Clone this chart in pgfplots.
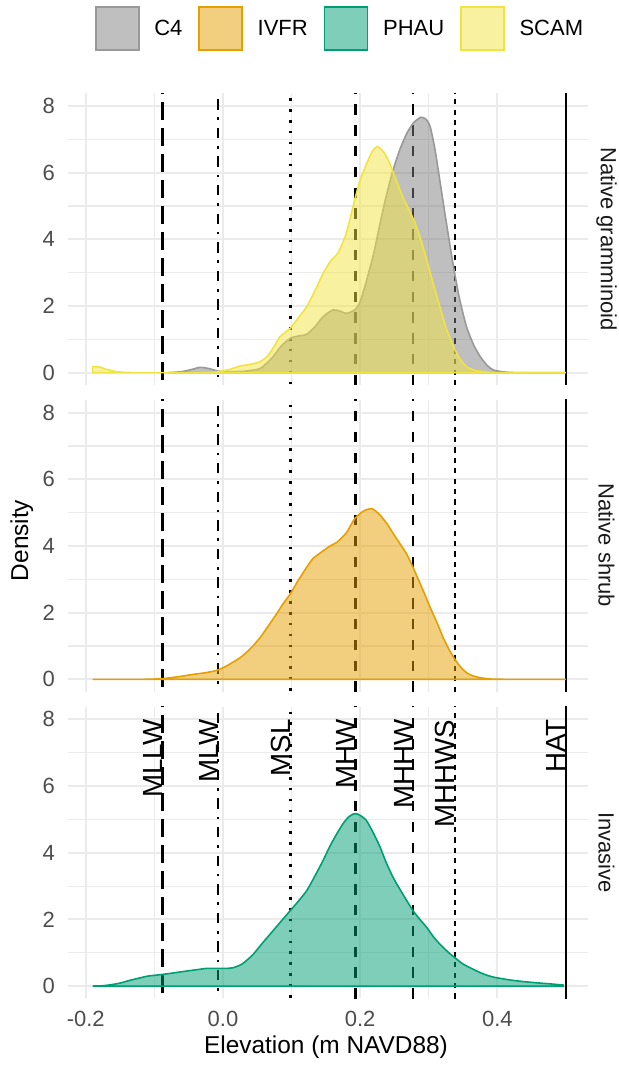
\documentclass[border=0pt]{standalone}
\usepackage{fontspec}
\setmainfont{Liberation Sans}
\usepackage{pgfplots}
\pgfplotsset{compat=1.18}
\definecolor{c4fill}{HTML}{7F7F7F}
\definecolor{c4line}{HTML}{999999}
\definecolor{ivfr}{HTML}{E69F00}
\definecolor{phau}{HTML}{009E73}
\definecolor{scam}{HTML}{F0E442}
\definecolor{gridc}{HTML}{EBEBEB}
\definecolor{tickc}{HTML}{4D4D4D}
\definecolor{stripc}{HTML}{1A1A1A}
\tikzset{
  strip/.style={rotate=-90, font=\fontsize{22}{26}\selectfont, text=stripc, inner sep=0pt},
}
\pgfplotsset{
  panel/.style={
    scale only axis, width=520pt, height=291.7pt,
    xmin=-0.2259, xmax=0.5321, ymin=-0.37, ymax=8.38,
    axis line style={draw=none},
    major tick length=0pt, minor tick length=0pt,
    xtick={-0.2,0,0.2,0.4}, minor xtick={-0.1,0.1,0.3,0.5},
    ytick={0,2,4,6,8}, minor ytick={1,3,5,7},
    yticklabels={0,2,4,6,8},
    grid=both,
    major grid style={gridc, line width=2.2pt},
    minor grid style={gridc, line width=1.1pt},
    ticklabel style={font=\fontsize{22}{26}\selectfont, text=tickc},
    yticklabel style={anchor=east, inner sep=0pt, xshift=-13pt},
    xticklabel style={anchor=north, inner sep=0pt, yshift=-12.6pt},
  },
  dens/.style={line width=1.6pt, fill opacity=0.5, smooth, tension=0.4},
  refl/.style={black, line width=2.6pt, forget plot},
  mllw/.style={refl, dash pattern=on 18pt off 8pt},
  mlw/.style={refl, dash pattern=on 2.6pt off 7.8pt on 10.4pt off 7.8pt},
  msl/.style={refl, dash pattern=on 2.6pt off 8.3pt},
  mhw/.style={refl, dash pattern=on 10.4pt off 10.4pt},
  mhhws/.style={refl, dash pattern=on 5.2pt off 5.2pt},
  hat/.style={refl},
}
\newcommand{\reflines}{%
  \addplot[mllw] coordinates {(-0.088,-1) (-0.088,9)};
  \addplot[mlw] coordinates {(-0.007,-1) (-0.007,9)};
  \addplot[msl] coordinates {(0.098,-1) (0.098,9)};
  \addplot[mhw] coordinates {(0.193,-1) (0.193,9)};
  \addplot[mhw] coordinates {(0.277,-1) (0.277,9)};
  \addplot[mhhws] coordinates {(0.338,-1) (0.338,9)};
  \addplot[hat] coordinates {(0.5,-1) (0.5,9)};
}
\begin{document}
\begin{tikzpicture}
\useasboundingbox (0,0) rectangle (618pt,1067pt);
% ---------- Panel 1 ----------
\begin{axis}[panel, at={(68pt,682pt)}, anchor=south west, xticklabels={},
  legend style={draw=none, fill=none, at={(axis description cs:0.0519,1.2215)}, anchor=west,
    inner sep=0pt, outer sep=0pt, nodes={inner sep=0pt},
    font=\fontsize{22}{26}\selectfont,
    /tikz/every odd column/.style={column sep=14.7pt},
    /tikz/every even column/.style={column sep=16pt}},
  legend columns=4, legend cell align=left,
  legend image code/.code={\draw[#1] (0pt,-21.5pt) rectangle (43pt,21.5pt);}]
\addlegendimage{fill=c4fill, fill opacity=0.5, draw=c4line, line width=1.6pt}
\addlegendentry{C4}
\addlegendimage{fill=ivfr, fill opacity=0.5, draw=ivfr, line width=1.6pt}
\addlegendentry{IVFR}
\addlegendimage{fill=phau, fill opacity=0.5, draw=phau, line width=1.6pt}
\addlegendentry{PHAU}
\addlegendimage{fill=scam, fill opacity=0.5, draw=scam, line width=1.6pt}
\addlegendentry{SCAM}
\reflines
\addplot[dens, fill=c4fill, draw=c4line, forget plot] coordinates {
(-0.08,0) (-0.06,0.03) (-0.045,0.1) (-0.033,0.16) (-0.02,0.12) (-0.008,0.05)
(0.01,0.03) (0.03,0.04) (0.045,0.08) (0.054,0.12) (0.063,0.27) (0.073,0.48)
(0.085,0.8) (0.098,1.03) (0.11,1.1) (0.122,1.15) (0.135,1.4) (0.146,1.68)
(0.16,1.88) (0.17,1.85) (0.18,1.78) (0.192,1.88) (0.2,2.13) (0.2095,2.78)
(0.22,3.6) (0.229,4.48) (0.238,5.3) (0.248,6.08) (0.258,6.7) (0.268,7.18)
(0.278,7.5) (0.2886,7.66) (0.296,7.6) (0.302,7.38) (0.309,6.7) (0.316,5.78)
(0.326,4.45) (0.336,3.18) (0.345,2.2) (0.355,1.38) (0.365,0.85) (0.375,0.48)
(0.385,0.22) (0.394,0.08) (0.41,0.02) (0.43,0) (0.5,0)
} \closedcycle;
\addplot[dens, fill=scam, draw=scam, forget plot] coordinates {
(-0.19,0.18) (-0.18,0.17) (-0.17,0.1) (-0.155,0.03) (-0.14,0.005) (-0.1,0)
(-0.05,0) (-0.02,0.01) (-0.007,0.03) (0.01,0.1) (0.025,0.2) (0.04,0.25)
(0.054,0.33) (0.065,0.5) (0.075,0.8) (0.083,1.08) (0.098,1.33) (0.11,1.65)
(0.122,1.98) (0.134,2.45) (0.146,2.98) (0.157,3.35) (0.168,3.6) (0.18,4.2)
(0.192,5.18) (0.2,5.78) (0.21,6.3) (0.218,6.65) (0.2255,6.78) (0.235,6.6)
(0.243,6.28) (0.253,5.75) (0.263,5.23) (0.272,4.85) (0.28,4.48) (0.289,3.95)
(0.297,3.38) (0.306,2.7) (0.316,1.98) (0.326,1.3) (0.336,0.78) (0.345,0.42)
(0.355,0.18) (0.367,0.07) (0.38,0.03) (0.4,0) (0.5,0)
} \closedcycle;
\end{axis}
\node[strip] at (606.5pt,828pt) {Native gramminoid};
% ---------- Panel 2 ----------
\begin{axis}[panel, at={(68pt,375.3pt)}, anchor=south west, xticklabels={}]
\reflines
\addplot[dens, fill=ivfr, draw=ivfr] coordinates {
(-0.19,0) (-0.12,0) (-0.089,0.02) (-0.065,0.08) (-0.043,0.15) (-0.025,0.2)
(-0.009,0.27) (0.005,0.4) (0.025,0.65) (0.04,0.92) (0.054,1.25) (0.066,1.6)
(0.078,1.96) (0.088,2.28) (0.098,2.56) (0.11,2.98) (0.122,3.36) (0.131,3.62)
(0.141,3.78) (0.156,4.0) (0.166,4.11) (0.18,4.4) (0.192,4.82) (0.205,5.05)
(0.217,5.12) (0.228,4.95) (0.239,4.67) (0.248,4.38) (0.258,4.07) (0.268,3.75)
(0.277,3.36) (0.29,2.75) (0.302,2.16) (0.312,1.7) (0.321,1.25) (0.33,0.88)
(0.338,0.6) (0.346,0.38) (0.355,0.2) (0.365,0.1) (0.375,0.05) (0.39,0.01)
(0.42,0) (0.5,0)
} \closedcycle;
\end{axis}
\node[strip] at (606.5pt,521.5pt) {Native shrub};
% ---------- Panel 3 ----------
\begin{axis}[panel, at={(68pt,68.6pt)}, anchor=south west,
  xticklabels={-0.2,0.0,0.2,0.4}]
\reflines
\addplot[dens, fill=phau, draw=phau] coordinates {
(-0.19,0) (-0.175,0.01) (-0.16,0.05) (-0.148,0.1) (-0.136,0.17) (-0.12,0.25)
(-0.109,0.3) (-0.088,0.35) (-0.07,0.4) (-0.053,0.45) (-0.035,0.5) (-0.024,0.53)
(-0.007,0.53) (0.005,0.53) (0.015,0.55) (0.027,0.65) (0.035,0.78) (0.044,0.95)
(0.058,1.3) (0.073,1.66) (0.085,1.95) (0.098,2.26) (0.11,2.55) (0.122,2.86)
(0.134,3.3) (0.146,3.77) (0.156,4.2) (0.166,4.57) (0.175,4.87) (0.183,5.07)
(0.19,5.16) (0.194,5.17) (0.2,5.12) (0.209,4.97) (0.219,4.6) (0.229,4.17)
(0.238,3.7) (0.248,3.26) (0.258,2.9) (0.268,2.56) (0.277,2.26) (0.287,2.0)
(0.297,1.76) (0.306,1.5) (0.316,1.26) (0.327,1.04) (0.338,0.85) (0.35,0.66)
(0.365,0.5) (0.38,0.36) (0.394,0.27) (0.41,0.21) (0.423,0.17) (0.44,0.13)
(0.462,0.09) (0.48,0.06) (0.496,0.03)
} \closedcycle;
\begin{scope}[every node/.style={rotate=90, anchor=base east, inner sep=0pt, font=\fontsize{27.7}{30}\selectfont}]
\node at (axis cs:-0.088,8) {MLLW};
\node at (axis cs:-0.007,8) {MLW};
\node at (axis cs:0.098,8) {MSL};
\node at (axis cs:0.193,8) {MHW};
\node at (axis cs:0.277,8) {MHHW};
\node at (axis cs:0.338,8) {MHHWS};
\node at (axis cs:0.5,8) {HAT};
\end{scope}
\end{axis}
\node[strip] at (606.5pt,214.5pt) {Invasive};
% ---------- Axis titles ----------
\node[rotate=90, font=\fontsize{24.4}{28}\selectfont, inner sep=0pt] at (21.7pt,526.5pt) {Density};
\node[font=\fontsize{24.4}{28}\selectfont, inner sep=0pt] at (326pt,20pt) {Elevation (m NAVD88)};
\end{tikzpicture}
\end{document}
